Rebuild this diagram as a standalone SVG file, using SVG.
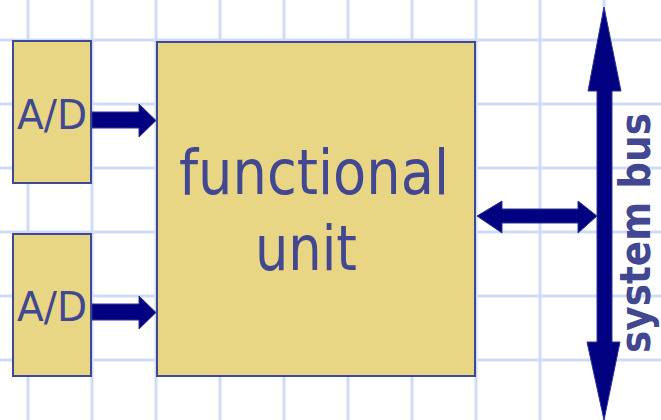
<svg xmlns="http://www.w3.org/2000/svg" width="661" height="420" viewBox="0 0 661 420">
  <style>
    .grid line { stroke: #cfdbf7; stroke-width: 3; }
    .box { fill: #e9d684; stroke: #3f4a96; stroke-width: 2; }
    .lbl { fill: #414791; font-family: "DejaVu Sans", "Liberation Sans", sans-serif; }
    .arrow { fill: #000080; stroke: #2e3590; stroke-width: 1; stroke-linejoin: miter; }
  </style>
  <rect width="661" height="420" fill="#ffffff"/>
  <!-- background grid, 64px pitch -->
  <g class="grid">
    <line x1="28" y1="0" x2="28" y2="420"/>
    <line x1="92" y1="0" x2="92" y2="420"/>
    <line x1="156" y1="0" x2="156" y2="420"/>
    <line x1="220" y1="0" x2="220" y2="420"/>
    <line x1="284" y1="0" x2="284" y2="420"/>
    <line x1="348" y1="0" x2="348" y2="420"/>
    <line x1="412" y1="0" x2="412" y2="420"/>
    <line x1="476" y1="0" x2="476" y2="420"/>
    <line x1="540" y1="0" x2="540" y2="420"/>
    <line x1="604" y1="0" x2="604" y2="420"/>
    <line x1="0" y1="40" x2="661" y2="40"/>
    <line x1="0" y1="104" x2="661" y2="104"/>
    <line x1="0" y1="168" x2="661" y2="168"/>
    <line x1="0" y1="232" x2="661" y2="232"/>
    <line x1="0" y1="296" x2="661" y2="296"/>
    <line x1="0" y1="360" x2="661" y2="360"/>
  </g>

  <g id="ad1">
    <rect class="box" x="13" y="41" width="78" height="142"/>
    <text class="lbl" x="52" y="129" font-size="41" text-anchor="middle" textLength="70" lengthAdjust="spacingAndGlyphs">A/D</text>
  </g>
  <g id="ad2">
    <rect class="box" x="13" y="234" width="78" height="142"/>
    <text class="lbl" x="52" y="321" font-size="41" text-anchor="middle" textLength="70" lengthAdjust="spacingAndGlyphs">A/D</text>
  </g>
  <g id="functional-unit">
    <rect class="box" x="157" y="42" width="318" height="334"/>
    <text class="lbl" x="314" y="194" font-size="63" text-anchor="middle" textLength="270" lengthAdjust="spacingAndGlyphs">functional</text>
    <text class="lbl" x="306" y="270" font-size="63" text-anchor="middle" textLength="102" lengthAdjust="spacingAndGlyphs">unit</text>
  </g>
  <g id="system-bus-label">
    <text class="lbl" transform="translate(650,233) rotate(-90)" font-size="42" font-weight="bold" text-anchor="middle" textLength="240" lengthAdjust="spacingAndGlyphs">system bus</text>
  </g>

  <g id="connectors">
    <!-- A/D outputs into the functional unit -->
    <polygon class="arrow" points="92,112 139,112 139,104 156,120.5 139,137 139,128 92,128"/>
    <polygon class="arrow" points="92,304 139,304 139,296 156,312.5 139,329 139,320 92,320"/>
    <!-- system bus, double-headed vertical -->
    <polygon class="arrow" points="604,7 621,91 612,91 612,342 620,342 604,420 587,342 597,342 597,91 588,91"/>
    <!-- functional unit to bus -->
    <polygon class="arrow" points="477,216 502,201 502,209 578,209 578,201 597,216 578,233 578,223 502,223 502,233"/>
  </g>
</svg>
